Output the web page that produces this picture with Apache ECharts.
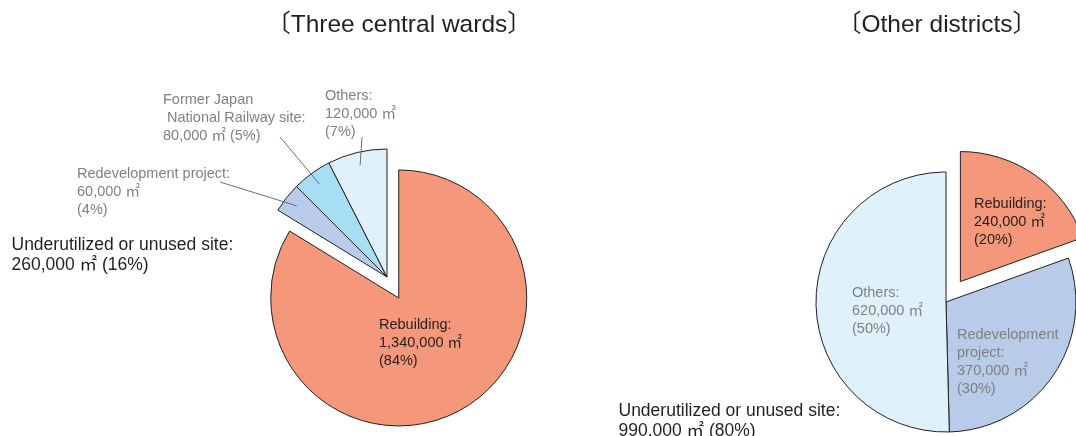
<!DOCTYPE html>
<html><head><meta charset="utf-8">
<script src="https://cdn.jsdelivr.net/npm/echarts@6/dist/echarts.min.js"></script>
<style>html,body{margin:0;padding:0;background:#fff}#c{width:1076px;height:436px}</style>
</head><body><div id="c"></div>
<script>
// ---- data ----
const titles = ['〔Three central wards〕', '〔Other districts〕'];
const groupLabels = ['Underutilized or unused site:\n260,000 ㎡ (16%)', 'Underutilized or unused site:\n990,000 ㎡ (80%)'];

const centralCategories = ['Rebuilding', 'Redevelopment project', 'Former Japan National Railway site', 'Others'];
const centralValues = [1340000, 60000, 80000, 120000];
const centralLabels = ['Rebuilding:\n1,340,000 ㎡\n(84%)', 'Redevelopment project:\n60,000 ㎡\n(4%)', 'Former Japan\n National Railway site:\n80,000 ㎡ (5%)', 'Others:\n120,000 ㎡\n(7%)'];

const otherCategories = ['Rebuilding', 'Redevelopment project', 'Others'];
const otherValues = [240000, 370000, 620000];
const otherLabels = ['Rebuilding:\n240,000 ㎡\n(20%)', 'Redevelopment\nproject:\n370,000 ㎡\n(30%)', 'Others:\n620,000 ㎡\n(50%)'];

// ---- styles / layout ----
const FONT = '"Liberation Sans", Arial, "Noto Sans CJK JP", sans-serif';
const DARK = '#231F20', GRAY = '#808080';
const centralColors = ['#F4977A', '#B8CBE8', '#A7DEF6', '#DFF2FB'];
const otherColors = ['#F4977A', '#B8CBE8', '#DFF2FB'];
const centralLabelPos = [[379, 315.5], [77, 165], [163, 91], [325, 87]];
// where the leader line meets its label, relative to the label's top-left corner
const centralLineEnd = [null, [143, 17], [117, 46], [37, 50]];
const centralLabelColor = [DARK, GRAY, GRAY, GRAY];
const otherLabelPos = [[974, 195], [957, 325.5], [852, 283.5]];
const otherLabelColor = [DARK, GRAY, GRAY];
const LBL = {fontSize: 14.5, lineHeight: 18, fontFamily: FONT};

const chart = echarts.init(document.getElementById('c'), null, {renderer: 'canvas'});

function posLayout(pos, lineEnd) {
  return function (p) {
    const q = pos[p.dataIndex];
    const out = {x: q[0], y: q[1], align: 'left', verticalAlign: 'top'};
    const e = lineEnd && lineEnd[p.dataIndex];
    if (e && p.labelLinePoints) {
      out.labelLinePoints = [p.labelLinePoints[0], [q[0] + e[0], q[1] + e[1]]];
    }
    return out;
  };
}

const centralMain = centralCategories.map((n, i) => ({
  name: n, value: centralValues[i], selected: i === 0,
  itemStyle: {color: centralColors[i]}
}));
const centralOverlay = centralCategories.map((n, i) => ({
  name: n, value: centralValues[i],
  label: {show: true, formatter: centralLabels[i], color: centralLabelColor[i]},
  labelLine: {show: !!centralLineEnd[i]}
}));
const otherMain = otherCategories.map((n, i) => ({
  name: n, value: otherValues[i], selected: i === 0,
  itemStyle: {color: otherColors[i]}
}));
const otherOverlay = otherCategories.map((n, i) => ({
  name: n, value: otherValues[i],
  label: {show: true, formatter: otherLabels[i], color: otherLabelColor[i]},
  labelLine: {show: false}
}));

const titleStyle = {fontSize: 24.5, fontWeight: 'normal', color: DARK, fontFamily: FONT, lineHeight: 28};
const groupStyle = {fontSize: 17.5, fontWeight: 'normal', color: DARK, fontFamily: FONT, lineHeight: 20};

const mainCommon = {
  type: 'pie', z: 2, startAngle: 90, clockwise: true, selectedMode: 'single',
  avoidLabelOverlap: false, emphasis: {disabled: true},
  itemStyle: {borderColor: DARK, borderWidth: 1},
  label: {show: false}, labelLine: {show: false}
};
const overlayCommon = {
  type: 'pie', z: 5, startAngle: 90, clockwise: true, silent: true,
  avoidLabelOverlap: false, emphasis: {disabled: true},
  itemStyle: {color: 'rgba(0,0,0,0)', borderWidth: 0},
  label: Object.assign({position: 'outside'}, LBL),
  labelLine: {length: 10, length2: 0, smooth: false, lineStyle: {color: '#6d6e71', width: 1}}
};

chart.setOption({
  animation: false,
  backgroundColor: '#fff',
  title: [
    {text: titles[0], left: 399, top: 11, textAlign: 'center', padding: 0, textStyle: titleStyle},
    {text: titles[1], left: 937, top: 11, textAlign: 'center', padding: 0, textStyle: titleStyle},
    {text: groupLabels[0], left: 11.5, top: 235.5, padding: 0, textStyle: groupStyle},
    {text: groupLabels[1], left: 618.5, top: 401.5, padding: 0, textStyle: groupStyle}
  ],
  series: [
    Object.assign({}, mainCommon, {center: [387, 277], radius: 128, selectedOffset: 24, data: centralMain}),
    Object.assign({}, overlayCommon, {center: [387, 277], radius: 115, labelLayout: posLayout(centralLabelPos, centralLineEnd), data: centralOverlay}),
    Object.assign({}, mainCommon, {center: [946, 302], radius: 130, selectedOffset: 25, data: otherMain}),
    Object.assign({}, overlayCommon, {center: [946, 302], radius: 110, labelLayout: posLayout(otherLabelPos, null), data: otherOverlay})
  ]
});
</script>
</body></html>
